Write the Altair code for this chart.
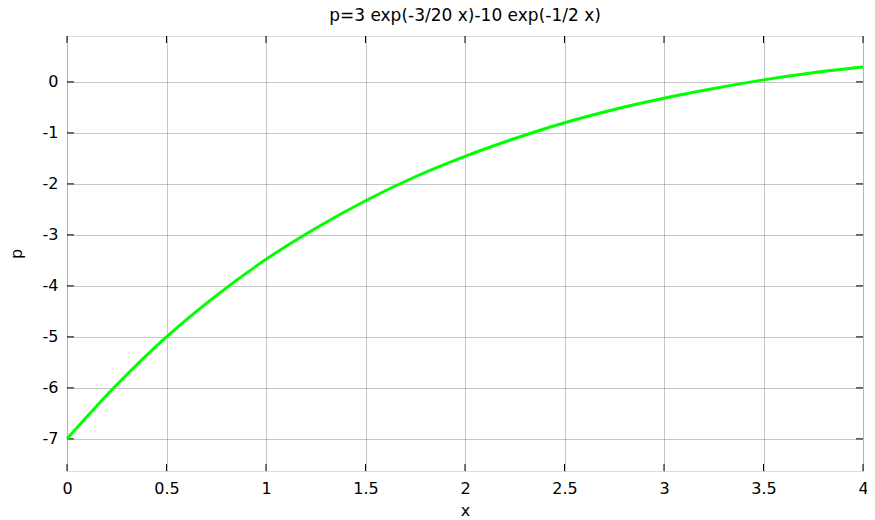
import altair as alt
import pandas as pd

# values
x_vals = [0, 0.25, 0.5, 0.75, 1, 1.25, 1.5, 1.75, 2, 2.25, 2.5, 2.75, 3, 3.25, 3.5, 3.75, 4]
p_vals = [-7.00, -5.94, -5.00, -4.19, -3.48, -2.87, -2.33, -1.86, -1.46, -1.11,
          -0.80, -0.54, -0.32, -0.13, 0.04, 0.18, 0.29]
x_ticks = [0, 0.5, 1, 1.5, 2, 2.5, 3, 3.5, 4]
y_ticks = [-7, -6, -5, -4, -3, -2, -1, 0]
title_text = "p=3 exp(-3/20 x)-10 exp(-1/2 x)"

FONT = "DejaVu Sans"
W, H = 796, 435
TL = 7

df = pd.DataFrame({"x": x_vals, "p": p_vals})
xt = pd.DataFrame({"x": x_ticks})
yt = pd.DataFrame({"p": y_ticks})

xs = alt.Scale(domain=[0, 4], nice=False, zero=False)
ys = alt.Scale(domain=[-7.63, 0.9], nice=False, zero=False)

x_axis = alt.Axis(values=x_ticks, title="x", grid=True, gridColor="#8c8c8c", gridDash=[1, 1],
                  gridWidth=1, ticks=False, domain=False, labelPadding=9,
                  labelExpr="'' + datum.value", labelFontSize=16, labelFont=FONT,
                  labelColor="black", titleFont=FONT, titleFontSize=16,
                  titleFontWeight="normal", titleColor="black", titlePadding=6,
                  labelFlush=False)
y_axis = alt.Axis(values=y_ticks, title="p", grid=True, gridColor="#8c8c8c", gridDash=[1, 1],
                  gridWidth=1, ticks=False, domain=False, labelPadding=9,
                  labelExpr="'' + datum.value", labelFontSize=16, labelFont=FONT,
                  labelColor="black", titleFont=FONT, titleFontSize=16,
                  titleFontWeight="normal", titleColor="black", titlePadding=18,
                  labelFlush=False)

line = alt.Chart(df).mark_line(color="#00ff00", strokeWidth=3, interpolate="monotone").encode(
    x=alt.X("x:Q", scale=xs, axis=x_axis),
    y=alt.Y("p:Q", scale=ys, axis=y_axis),
)

xb = alt.Chart(xt).mark_rule(color="black", strokeWidth=1).encode(
    x=alt.X("x:Q", scale=xs, axis=x_axis), y=alt.value(H), y2=alt.value(H - TL))
xtop = alt.Chart(xt).mark_rule(color="black", strokeWidth=1).encode(
    x=alt.X("x:Q", scale=xs, axis=x_axis), y=alt.value(0), y2=alt.value(TL))
yl = alt.Chart(yt).mark_rule(color="black", strokeWidth=1).encode(
    y=alt.Y("p:Q", scale=ys, axis=y_axis), x=alt.value(0), x2=alt.value(TL))
yr = alt.Chart(yt).mark_rule(color="black", strokeWidth=1).encode(
    y=alt.Y("p:Q", scale=ys, axis=y_axis), x=alt.value(W), x2=alt.value(W - TL))

chart = alt.layer(xb, xtop, yl, yr, line).properties(
    width=W, height=H,
    autosize="none",
    padding={"left": 59, "top": 28, "right": 4, "bottom": 48},
    title=alt.TitleParams(title_text, font=FONT, fontSize=17, fontWeight="normal",
                          color="black", anchor="middle", baseline="alphabetic",
                          offset=2, dy=4),
).configure_view(stroke="black", strokeWidth=1.5).configure(background="white")

chart.save("out.html", embed_options={"renderer": "svg", "actions": False})
